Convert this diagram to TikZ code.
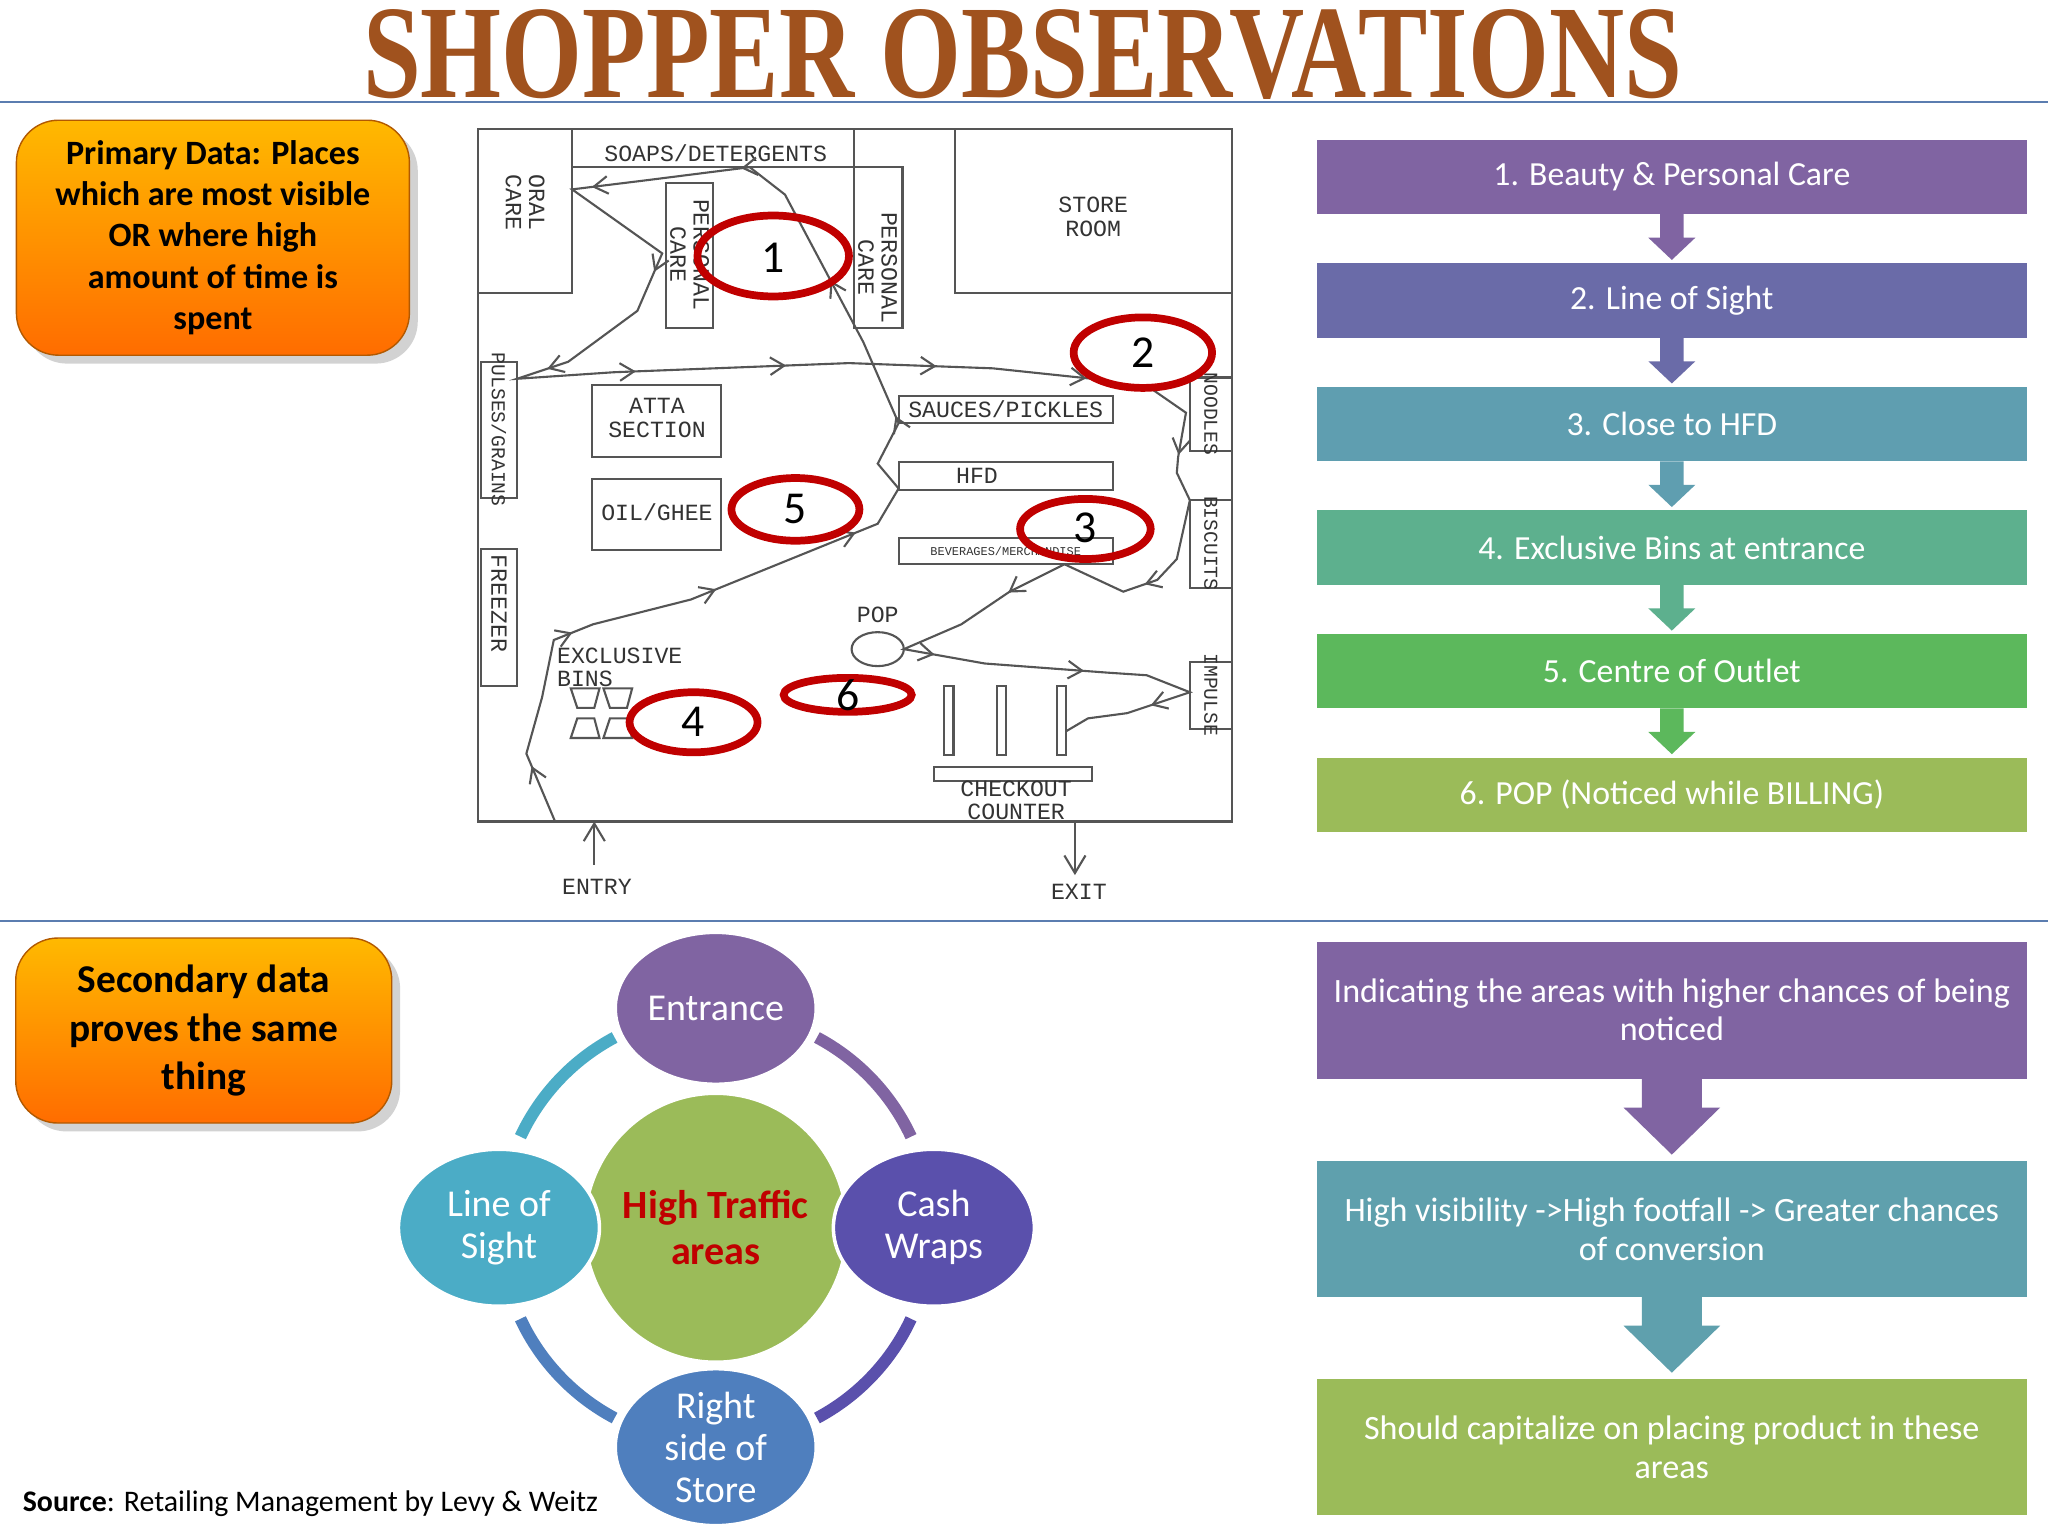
\documentclass[tikz,border=0pt]{standalone}
\usepackage{fontspec}
\setmainfont{Carlito}
\newfontfamily\planfont{Liberation Mono}
\newfontfamily\titlefont{Liberation Serif}
\usetikzlibrary{arrows.meta,decorations.markings,shadows,shapes.geometric}
\definecolor{cpurple}{HTML}{8064A2}
\definecolor{cblupur}{HTML}{6A6BA8}
\definecolor{cteal}{HTML}{5F9EB0}
\definecolor{cteal2}{HTML}{5DB08E}
\definecolor{cgreen}{HTML}{5CB85C}
\definecolor{colive}{HTML}{9BBB59}
\definecolor{cbrown}{HTML}{A0521E}
\definecolor{cline}{HTML}{5B7DB0}
\definecolor{cred}{HTML}{C00000}
\definecolor{plan}{HTML}{555555}
\definecolor{cLoS}{HTML}{4BACC6}
\definecolor{cCash}{HTML}{5A50AC}
\definecolor{cRight}{HTML}{4F7FBE}
\tikzset{
 orangebox/.style={rounded corners=12pt, top color=orange!55!yellow, bottom color=orange!85!red, draw=orange!70!black, drop shadow={opacity=0.35}},
 listbox/.style={text=white, font=\fontsize{9.6}{11}\selectfont},
 pl/.style={draw=plan, line width=0.6pt},
 pt/.style={font=\planfont\fontsize{6.6}{6.6}\selectfont, text=black!80, inner sep=0pt},
 redring/.style={draw=cred, line width=2.2pt},
 ringarc/.style={line width=3.4pt},
 flow/.style={draw=plan, line width=0.6pt, postaction={decorate}, decoration={markings, mark=between positions 0.02 and 0.99 step 0.05 with {\arrow{Straight Barb[length=4pt,width=5pt]}}}},
 el/.style={ellipse, draw=white, line width=1pt, text=white, align=center, inner sep=0pt, font=\fontsize{10.8}{12}\selectfont}
}
\begin{document}
\begin{tikzpicture}[x=0.013061cm, y=-0.013061cm]
\useasboundingbox (0,0) rectangle (1568,1176);
\fill[white] (0,0) rectangle (1568,1176);
% title
\node[inner sep=0pt] (title) at (783,42) {\resizebox{13.19cm}{0.88cm}{\titlefont\bfseries\fontsize{40}{40}\selectfont\color{cbrown}SHOPPER OBSERVATIONS}};
\draw[cline, line width=0.6pt] (0,78) -- (1568,78);
\draw[cline, line width=0.6pt] (0,705) -- (1568,705);
% orange boxes
\node[orangebox, minimum width=3.93cm, minimum height=2.35cm, align=center, font=\bfseries\fontsize{9.7}{11.7}\selectfont] (ob1) at (163,182) {Primary Data: Places\\which are most visible\\OR where high\\amount of time is\\spent};
\node[orangebox, minimum width=3.76cm, minimum height=1.85cm, align=center, font=\bfseries\fontsize{11.2}{13.7}\selectfont] (ob2) at (156,789) {Secondary data\\proves the same\\thing};
% list
\foreach \i/\c/\t in {0/cpurple/{1. Beauty \& Personal Care},1/cblupur/{2. Line of Sight},2/cteal/{3. Close to HFD},3/cteal2/{4. Exclusive Bins at entrance},4/cgreen/{5. Centre of Outlet},5/colive/{6. POP (Noticed while BILLING)}}{
 \pgfmathsetmacro{\yy}{107+94.6*\i}
 \fill[\c] (1008,\yy) rectangle (1552,\yy+57);
 \node[listbox] (li\i) at (1280,\yy+28.5) {\t};
 \ifnum\i<5
 \fill[\c] (1271,\yy+57) -- (1271,\yy+75) -- (1262,\yy+75) -- (1280,\yy+92) -- (1298,\yy+75) -- (1289,\yy+75) -- (1289,\yy+57) -- cycle;
 \fi
}
% bottom right
\fill[cpurple] (1008,721) rectangle (1552,826);
\fill[cpurple] (1257,826) -- (1257,848) -- (1243,848) -- (1280,884) -- (1317,848) -- (1303,848) -- (1303,826) -- cycle;
\fill[cteal!90!cteal2] (1008,889) rectangle (1552,993);
\fill[cteal!90!cteal2] (1257,993) -- (1257,1015) -- (1243,1015) -- (1280,1051) -- (1317,1015) -- (1303,1015) -- (1303,993) -- cycle;
\fill[colive] (1008,1056) rectangle (1552,1160);
\node[listbox, align=center, font=\fontsize{9.7}{11}\selectfont] (b1) at (1280,773) {Indicating the areas with higher chances of being\\noticed};
\node[listbox, align=center, font=\fontsize{9.7}{11}\selectfont] (b2) at (1280,941) {High visibility ->High footfall -> Greater chances\\of conversion};
\node[listbox, align=center, font=\fontsize{9.7}{11}\selectfont] (b3) at (1280,1108) {Should capitalize on placing product in these\\areas};
% cycle
\coordinate (cc) at (548,940);
\draw[ringarc, cpurple] ([shift={(25:2.155cm)}]cc) arc[start angle=25, end angle=62, radius=2.155cm];
\draw[ringarc, cCash] ([shift={(-62:2.155cm)}]cc) arc[start angle=-62, end angle=-25, radius=2.155cm];
\draw[ringarc, cRight] ([shift={(-155:2.155cm)}]cc) arc[start angle=-155, end angle=-118, radius=2.155cm];
\draw[ringarc, cLoS] ([shift={(118:2.155cm)}]cc) arc[start angle=118, end angle=155, radius=2.155cm];
\node[el, fill=colive, minimum width=2.59cm, minimum height=2.69cm, text=cred, font=\bfseries\fontsize{11.4}{13}\selectfont] (hub) at (cc) {High Traffic\\areas};
\node[el, fill=cpurple, minimum width=2.01cm, minimum height=1.52cm] (ent) at (548,772) {Entrance};
\node[el, fill=cLoS, minimum width=2.01cm, minimum height=1.57cm] (los) at (382,940) {Line of\\Sight};
\node[el, fill=cCash, minimum width=2.01cm, minimum height=1.57cm] (cash) at (715,940) {Cash\\Wraps};
\node[el, fill=cRight, minimum width=2.01cm, minimum height=1.57cm] (rs) at (548,1108) {Right\\side of\\Store};
\node[anchor=west, font=\fontsize{8.5}{10}\selectfont] (src) at (8,1151) {\textbf{Source}: Retailing Management by Levy \& Weitz};
% store plan
\draw[pl] (366,99) rectangle (943,629);
\draw[pl] (366,99) rectangle (438,224);
\draw[pl] (438,99) rectangle (654,128);
\draw[pl] (510,140) rectangle (546,251);
\draw[pl] (654,128) rectangle (691,251);
\draw[pl] (654,99) -- (654,128);
\draw[pl] (731,99) rectangle (943,224);
\draw[pl] (368,277) rectangle (396,381);
\draw[pl] (368,420) rectangle (396,525);
\draw[pl] (453,295) rectangle (552,350);
\draw[pl] (453,367) rectangle (552,421);
\draw[pl] (688,303) rectangle (852,324);
\draw[pl] (688,354) rectangle (852,375);
\draw[pl] (688,412) rectangle (852,432);
\draw[pl] (911,289) rectangle (943,345);
\draw[pl] (911,383) rectangle (943,450);
\draw[pl] (911,507) rectangle (943,558);
\draw[pl] (672,497) ellipse [x radius=20, y radius=13];
\foreach \x in {723,763,809} \draw[pl] (\x,525) rectangle (\x+7,578);
\draw[pl] (715,587) rectangle (836,598);
\foreach \x in {437,462} {
 \draw[pl] (\x,527) -- (\x+22,527) -- (\x+18,542) -- (\x+5,542) -- cycle;
 \draw[pl] (\x+5,550) -- (\x+18,550) -- (\x+22,565) -- (\x,565) -- cycle;
}
\node[pt] (t1) at (548,117) {SOAPS/DETERGENTS};
\node[pt, rotate=-90, align=center] (t2) at (402,155) {ORAL\\CARE};
\node[pt, rotate=-90, align=center] (t3) at (528,195) {PERSONAL\\CARE};
\node[pt, rotate=-90, align=center] (t4) at (672,205) {PERSONAL\\CARE};
\node[pt, align=center] (t5) at (837,166) {STORE\\ROOM};
\node[pt, rotate=-90, font=\planfont\fontsize{5.6}{5.6}\selectfont] (t6) at (382,329) {PULSES/GRAINS};
\node[pt, rotate=-90] (t7) at (382,462) {FREEZER};
\node[pt, align=center] (t8) at (503,320) {ATTA\\SECTION};
\node[pt] (t9) at (503,392) {OIL/GHEE};
\node[pt] (t10) at (770,313) {SAUCES/PICKLES};
\node[pt] (t11) at (748,364) {HFD};
\node[pt, font=\planfont\fontsize{3.4}{4}\selectfont] (t12) at (770,422) {BEVERAGES/MERCHANDISE};
\node[pt, rotate=-90, font=\planfont\fontsize{5.6}{5.6}\selectfont] (t13) at (927,317) {NOODLES};
\node[pt, rotate=-90, font=\planfont\fontsize{5.6}{5.6}\selectfont] (t14) at (927,416) {BISCUITS};
\node[pt, rotate=-90, font=\planfont\fontsize{5.6}{5.6}\selectfont] (t15) at (927,532) {IMPULSE};
\node[pt] (t16) at (672,471) {POP};
\node[pt, align=left, anchor=west] (t17) at (426,511) {EXCLUSIVE\\BINS};
\node[pt, align=center] (t18) at (778,613) {CHECKOUT\\COUNTER};
\node[pt] (entry) at (457,679) {ENTRY};
\node[pt] (exit) at (826,683) {EXIT};
\coordinate (ein) at (455,662);
\coordinate (ein2) at (455,629);
\draw[pl, -{Straight Barb[length=5pt,width=6pt]}] (ein) -- (ein2);
\coordinate (eo) at (823,629);
\coordinate (eo2) at (823,670);
\draw[pl, -{Straight Barb[length=5pt,width=6pt]}] (eo) -- (eo2);
\draw[flow] (425,629) -- (403,577) -- (415,534) -- (424,490) -- (454,478) -- (529,459) -- (672,401) -- (688,374) -- (672,355) -- (688,324) -- (661,262) -- (601,149) -- (574,128) -- (495,138) -- (438,145) -- (469,167) -- (507,194) -- (488,238) -- (435,277) -- (396,290) -- (470,285) -- (650,278) -- (760,282) -- (836,290) -- (882,298) -- (908,316) -- (902,350) -- (901,362) -- (911,383) -- (901,428) -- (886,444) -- (860,453) -- (815,432) -- (773,453) -- (736,478) -- (692,497) -- (754,508) -- (848,515) -- (878,517) -- (911,530) -- (863,546) -- (833,550) -- (816,560);
% red rings
\draw[redring] (592,196) ellipse [x radius=58, y radius=31];
\node[font=\fontsize{13}{13}\selectfont] (n1) at (592,197) {1};
\draw[redring] (875,270) ellipse [x radius=53, y radius=27];
\node[font=\fontsize{13}{13}\selectfont] (n2) at (875,270) {2};
\draw[redring] (831,405) ellipse [x radius=50, y radius=23];
\node[font=\fontsize{13}{13}\selectfont] (n3) at (831,404) {3};
\draw[redring] (531,553) ellipse [x radius=49, y radius=23];
\node[font=\fontsize{13}{13}\selectfont] (n4) at (531,553) {4};
\draw[redring] (609,390) ellipse [x radius=49, y radius=24];
\node[font=\fontsize{13}{13}\selectfont] (n5) at (609,390) {5};
\draw[redring] (649,532) ellipse [x radius=49, y radius=13];
\node[font=\fontsize{13}{13}\selectfont] (n6) at (649,532) {6};
\end{tikzpicture}
\end{document}
